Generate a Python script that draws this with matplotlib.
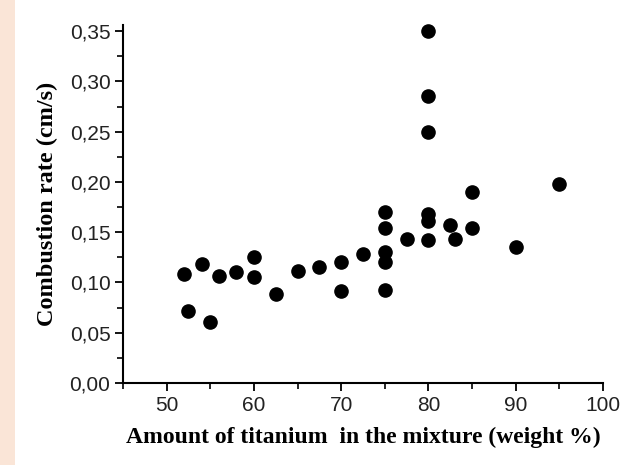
import matplotlib.pyplot as plt
from matplotlib.ticker import MultipleLocator, FuncFormatter
from matplotlib.patches import Rectangle

# titanium weight % vs combustion rate (cm/s)
titanium = [52, 52.4, 54, 55, 56, 58, 60, 60, 62.5, 65, 67.5, 70, 70, 72.5,
            75, 75, 75, 75, 75, 77.5, 80, 80, 80, 80, 80, 80, 82.5, 83, 85, 85,
            90, 95]
rate = [0.108, 0.072, 0.118, 0.061, 0.106, 0.110, 0.125, 0.105, 0.089, 0.111,
        0.115, 0.120, 0.092, 0.128, 0.170, 0.154, 0.130, 0.120, 0.093, 0.143,
        0.350, 0.285, 0.250, 0.168, 0.161, 0.142, 0.157, 0.143, 0.190, 0.154,
        0.135, 0.198]

fig = plt.figure(figsize=(6.23, 4.65), dpi=100)
fig.patches.append(Rectangle((0, 0), 15 / 623, 1, transform=fig.transFigure,
                             facecolor='#FAE5D7', edgecolor='none', zorder=0))

ax = fig.add_axes([0.1974, 0.1763, 0.7706, 0.7697])
ax.plot(titanium, rate, 'o', color='black', markersize=9.5, clip_on=False)

ax.set_xlim(45, 100)
ax.set_ylim(0, 0.356)
ax.spines['top'].set_visible(False)
ax.spines['right'].set_visible(False)
for s in ['left', 'bottom']:
    ax.spines[s].set_linewidth(1.5)

ax.set_xticks(range(50, 101, 10))
ax.xaxis.set_minor_locator(MultipleLocator(5))
ax.set_yticks([0, 0.05, 0.10, 0.15, 0.20, 0.25, 0.30, 0.35])
ax.yaxis.set_minor_locator(MultipleLocator(0.025))
ax.yaxis.set_major_formatter(FuncFormatter(lambda v, p: f"{v:.2f}".replace('.', ',')))
ax.tick_params(which='major', direction='out', length=6, width=1.3, pad=3,
               labelsize=15, labelcolor='#222222')
ax.tick_params(which='minor', direction='out', length=4, width=1.2)
for lab in ax.get_xticklabels() + ax.get_yticklabels():
    lab.set_fontfamily('Liberation Sans')

ax.set_xlabel("Amount of titanium  in the mixture (weight %)", fontsize=17,
              fontweight='bold', family='Liberation Serif', labelpad=9)
ax.set_ylabel("Combustion rate (cm/s)", fontsize=17.5, fontweight='bold',
              family='Liberation Serif', labelpad=8)

fig.savefig('out.png', dpi=100)
